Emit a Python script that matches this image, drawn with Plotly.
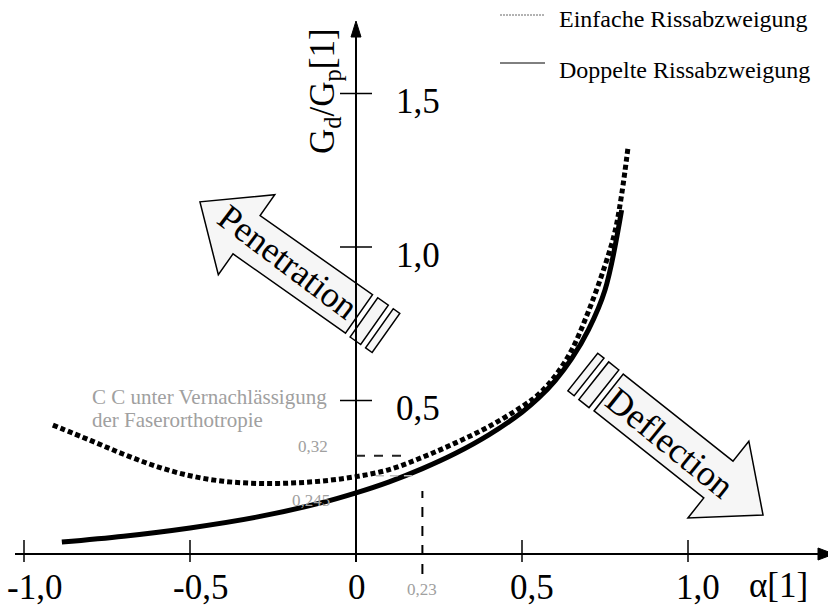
import numpy as np
import plotly.graph_objects as go

# ---------------- data ----------------
# Einfache Rissabzweigung (dotted curve)
einfach_alpha = [-0.913, -0.8, -0.7, -0.6, -0.5, -0.4, -0.3, -0.2, -0.1, 0.0, 0.1, 0.2,
                 0.3, 0.4, 0.5, 0.55, 0.6, 0.65, 0.7, 0.75, 0.78, 0.80, 0.82]
einfach_g = [0.420, 0.370, 0.325, 0.285, 0.255, 0.237, 0.230, 0.231, 0.238, 0.252, 0.275, 0.315,
             0.362, 0.415, 0.480, 0.520, 0.580, 0.665, 0.790, 0.940, 1.050, 1.170, 1.330]

# Doppelte Rissabzweigung (solid curve)
doppelt_alpha = [-0.886, -0.7, -0.5, -0.3, -0.1, 0.0, 0.1, 0.2, 0.3, 0.4, 0.5,
                 0.55, 0.6, 0.65, 0.7, 0.75, 0.8]
doppelt_g = [0.039, 0.058, 0.085, 0.120, 0.168, 0.199, 0.235, 0.278, 0.328, 0.388, 0.462,
             0.508, 0.565, 0.637, 0.730, 0.860, 1.120]

x_ticks = [-1.0, -0.5, 0.5, 1.0]
x_tick_labels = ["-1,0", "-0,5", "0,5", "1,0"]
x_zero_label = "0"
y_ticks = [0.5, 1.0, 1.5]
y_tick_labels = ["0,5", "1,0", "1,5"]

marker_x = 0.2          # vertical dashed marker, labelled 0,23
marker_x_label = "0,23"
marker_y_high = 0.32
marker_y_high_label = "0,32"
marker_y_low = 0.245
marker_y_low_label = "0,245"

# ---------------- geometry helpers ----------------
W, H = 828, 609
KX, KY = 332.0, 307.0     # px per unit
X0, Y0 = 356.0, 554.0     # px of the origin
xr = [-X0 / KX, (W - X0) / KX]
yr = [-(H - Y0) / KY, Y0 / KY]


def to_px(x, y):
    return X0 + x * KX, Y0 - y * KY


def to_data(px, py):
    return (px - X0) / KX, (Y0 - py) / KY


def path_from_px(pts):
    s = ""
    for i, (px, py) in enumerate(pts):
        x, y = to_data(px, py)
        s += ("M" if i == 0 else "L") + f"{x:.5f},{y:.5f} "
    return s + "Z"


def block_arrow(tail, tip, shaft_w=47, head_w=98, head_len=57,
                bars=((-6, -19), (-25, -33)), bar_half=24):
    tx, ty = to_px(*tail)
    px_, py_ = to_px(*tip)
    d = np.array([px_ - tx, py_ - ty])
    L = np.linalg.norm(d)
    d = d / L
    n = np.array([-d[1], d[0]])
    t = np.array([tx, ty])

    def P(u, v):
        p = t + d * u + n * v
        return (p[0], p[1])
    hb = L - head_len
    arrow = [P(0, -shaft_w / 2), P(hb, -shaft_w / 2), P(hb, -head_w / 2), P(L, 0),
             P(hb, head_w / 2), P(hb, shaft_w / 2), P(0, shaft_w / 2)]
    out = [path_from_px(arrow)]
    for (u1, u2) in bars:
        out.append(path_from_px([P(u1, -bar_half), P(u2, -bar_half),
                                 P(u2, bar_half), P(u1, bar_half)]))
    return out


fig = go.Figure()

fig.add_trace(go.Scatter(x=einfach_alpha, y=einfach_g, mode="lines",
                         name="Einfache Rissabzweigung",
                         line=dict(color="black", width=5, dash="5px,3px", shape="spline", smoothing=1),
                         showlegend=False, hoverinfo="skip"))
fig.add_trace(go.Scatter(x=doppelt_alpha, y=doppelt_g, mode="lines",
                         name="Doppelte Rissabzweigung",
                         line=dict(color="black", width=5, shape="spline", smoothing=1),
                         showlegend=False, hoverinfo="skip"))

shapes = []
ax_line = dict(color="black", width=2)
# x axis
shapes.append(dict(type="line", xref="x", yref="y", x0=to_data(15, 0)[0], x1=to_data(822, 0)[0],
                   y0=0, y1=0, line=ax_line))
shapes.append(dict(type="path", xref="x", yref="y",
                   path=path_from_px([(818, Y0 - 6), (834, Y0), (818, Y0 + 6)]),
                   fillcolor="black", line=dict(color="black", width=1)))
# y axis
shapes.append(dict(type="line", xref="x", yref="y", x0=0, x1=0,
                   y0=to_data(0, 562)[1], y1=to_data(0, 34)[1], line=ax_line))
shapes.append(dict(type="path", xref="x", yref="y",
                   path=path_from_px([(X0 - 5, 37), (X0, 21), (X0 + 5, 37)]),
                   fillcolor="black", line=dict(color="black", width=1)))
# ticks
for xv in x_ticks:
    shapes.append(dict(type="line", xref="x", yref="y", x0=xv, x1=xv,
                       y0=to_data(0, 540)[1], y1=to_data(0, 562)[1], line=dict(color="black", width=1.5)))
for yv in y_ticks:
    shapes.append(dict(type="line", xref="x", yref="y", y0=yv, y1=yv,
                       x0=to_data(340, 0)[0], x1=to_data(372, 0)[0], line=dict(color="black", width=1.5)))

# marker lines
shapes.append(dict(type="line", xref="x", yref="y", x0=0, x1=0.15, y0=marker_y_high, y1=marker_y_high,
                   line=dict(color="#222", width=2, dash="9px,9px")))
shapes.append(dict(type="line", xref="x", yref="y", x0=0.06, x1=0.17, y0=marker_y_low + 0.01,
                   y1=marker_y_low + 0.01, line=dict(color="#bbb", width=1.5, dash="8px,6px")))
shapes.append(dict(type="line", xref="x", yref="y", x0=marker_x, x1=marker_x,
                   y0=to_data(0, 574)[1], y1=0.205, line=dict(color="black", width=2, dash="10px,9px")))

# block arrows
for tail, tip in [((0.009, 0.782), (-0.470, 1.147)), ((0.761, 0.526), (1.226, 0.127))]:
    for p in block_arrow(tail, tip):
        shapes.append(dict(type="path", xref="x", yref="y", path=p, fillcolor="#f6f6f6",
                           line=dict(color="black", width=1.5), layer="below"))

# legend samples
shapes.append(dict(type="line", xref="paper", yref="paper", x0=500 / W, x1=545 / W,
                   y0=1 - 15 / H, y1=1 - 15 / H, line=dict(color="#666", width=1, dash="2px,1px")))
shapes.append(dict(type="line", xref="paper", yref="paper", x0=500 / W, x1=545 / W,
                   y0=1 - 63 / H, y1=1 - 63 / H, line=dict(color="black", width=1)))

SERIF = "Liberation Serif"
ann = []
for xv, lab in zip(x_ticks, x_tick_labels):
    ann.append(dict(x=xv, y=to_data(0, 587)[1], text=lab, showarrow=False, xshift=10,
                    font=dict(family=SERIF, size=35, color="black")))
ann.append(dict(x=0, y=to_data(0, 587)[1], text=x_zero_label, showarrow=False, xshift=1,
                font=dict(family=SERIF, size=35, color="black")))
ann.append(dict(x=to_data(778, 0)[0], y=to_data(0, 585)[1], text="α[1]", showarrow=False,
                font=dict(family=SERIF, size=35, color="black")))
for yv, lab in zip(y_ticks, y_tick_labels):
    ann.append(dict(x=to_data(394, 0)[0], y=yv, text=lab, showarrow=False, xanchor="left",
                    yshift=-8, font=dict(family=SERIF, size=35, color="black")))
ann.append(dict(x=to_data(324, 0)[0], y=to_data(0, 91)[1], text="G<sub>d</sub>/G<sub>p</sub>[1]",
                showarrow=False, textangle=-90, font=dict(family=SERIF, size=35, color="black")))

# legend text
ann.append(dict(xref="paper", yref="paper", x=557 / W, y=1 - 19 / H, xanchor="left", yanchor="middle",
                text="Einfache Rissabzweigung", showarrow=False,
                font=dict(family=SERIF, size=24, color="black")))
ann.append(dict(xref="paper", yref="paper", x=557 / W, y=1 - 70 / H, xanchor="left", yanchor="middle",
                text="Doppelte Rissabzweigung", showarrow=False,
                font=dict(family=SERIF, size=24, color="black")))

# arrow texts
ann.append(dict(x=-0.205, y=0.951, text="Penetration", showarrow=False, textangle=37,
                font=dict(family=SERIF, size=36, color="black")))
ann.append(dict(x=0.946, y=0.362, text="Deflection", showarrow=False, textangle=39,
                font=dict(family=SERIF, size=36, color="black")))

# grey notes
GREY = "#a0a0a0"
ann.append(dict(x=to_data(90, 0)[0], y=to_data(0, 397)[1], xanchor="left", showarrow=False,
                text="C C unter Vernachlässigung", font=dict(family=SERIF, size=21, color=GREY)))
ann.append(dict(x=to_data(90, 0)[0], y=to_data(0, 420)[1], xanchor="left", showarrow=False,
                text="der Faserorthotropie", font=dict(family=SERIF, size=21, color=GREY)))
ann.append(dict(x=to_data(313, 0)[0], y=marker_y_high, yshift=9, showarrow=False,
                text=marker_y_high_label, font=dict(family=SERIF, size=17, color=GREY)))
ann.append(dict(x=to_data(311, 0)[0], y=marker_y_low, yshift=-22, showarrow=False,
                text=marker_y_low_label, font=dict(family=SERIF, size=17, color=GREY)))
ann.append(dict(x=marker_x, y=to_data(0, 589)[1], showarrow=False,
                text=marker_x_label, font=dict(family=SERIF, size=17, color=GREY)))

fig.update_layout(
    width=W, height=H, margin=dict(l=0, r=0, t=0, b=0),
    paper_bgcolor="white", plot_bgcolor="white",
    xaxis=dict(range=xr, visible=False, fixedrange=True),
    yaxis=dict(range=yr, visible=False, fixedrange=True),
    shapes=shapes, annotations=ann, showlegend=False,
)

fig.write_html("out.html")
